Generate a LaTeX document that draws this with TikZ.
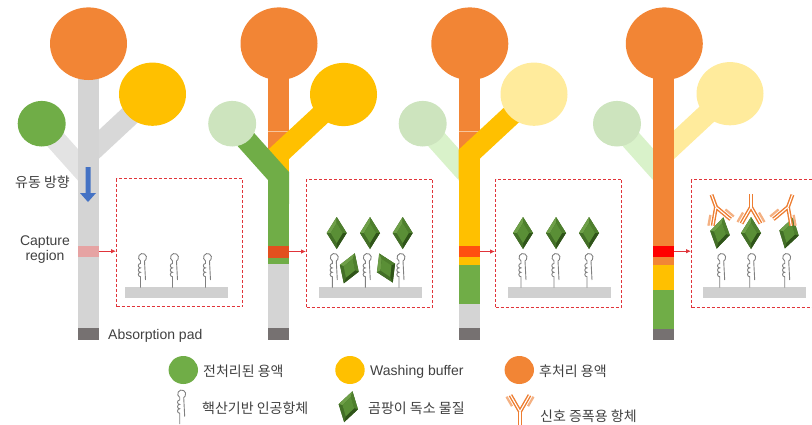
\documentclass[tikz,border=0pt]{standalone}
\usepackage{fontspec}
\setmainfont{Liberation Sans}
\newfontfamily\kr{Noto Sans CJK KR}
\usetikzlibrary{arrows.meta}

\definecolor{cOrange}{HTML}{F28535}
\definecolor{cYellow}{HTML}{FFC000}
\definecolor{cGreen}{HTML}{70AD47}
\definecolor{cGreenPale}{HTML}{CDE4BE}
\definecolor{cGreenPaleArm}{HTML}{D9F2CA}
\definecolor{cYellowPale}{HTML}{FFEB9C}
\definecolor{cStem}{HTML}{D4D4D4}
\definecolor{cArmA}{HTML}{E3E3E3}
\definecolor{cArmB}{HTML}{D8D8D8}
\definecolor{cPad}{HTML}{767171}
\definecolor{cCapA}{HTML}{E6A3A3}
\definecolor{cCapB}{HTML}{E2501E}
\definecolor{cCapC}{HTML}{FF5010}
\definecolor{cCapD}{HTML}{FF0000}
\definecolor{cBox}{HTML}{E0343A}
\definecolor{cText}{HTML}{404040}
\definecolor{cApt}{HTML}{808080}
\definecolor{cBar}{HTML}{D0D0D0}
\definecolor{cBlue}{HTML}{4472C4}
\definecolor{cSeam}{HTML}{F7C49C}
\definecolor{cAbHeavy}{HTML}{ED7D31}
\definecolor{cAbLight}{HTML}{F4B183}
\definecolor{txBase}{HTML}{3A6420}
\definecolor{txTL}{HTML}{6E9F48}
\definecolor{txTR}{HTML}{4E7F2D}
\definecolor{txBR}{HTML}{2F5419}
\definecolor{txBL}{HTML}{436F27}
\definecolor{txFace}{HTML}{5A8F36}

\tikzset{
  arm/.style={line width=21pt},
  capzone/.style={rectangle, draw=none, inner sep=0pt, minimum width=21pt, minimum height=11pt},
  box/.style={rectangle, draw=cBox, dash pattern=on 3pt off 2pt, line width=1.1pt,
              minimum width=126pt, minimum height=128pt, anchor=north west, inner sep=0pt},
  link/.style={draw=cBox, line width=0.8pt, -{Latex[length=5pt,width=4.5pt]}},
  lbl/.style={text=cText, inner sep=0pt, font=\fontsize{14}{15.6}\selectfont},
  krlbl/.style={text=cText, inner sep=0pt, font=\kr\fontsize{14}{16}\selectfont},
  heavy/.style={cAbHeavy, line width=1.4pt, double=white, double distance=1.1pt},
  pics/aptamer/.style={code={
    \draw[cApt, line width=0.9pt] (-2,3.46) arc[start angle=120, end angle=420, radius=4];
    \draw[cApt, line width=0.9pt] (-2,3.46) -- (-2,6)
        arc[start angle=270, end angle=90, radius=2.2]
        arc[start angle=270, end angle=90, radius=2.2]
        arc[start angle=270, end angle=90, radius=2.2] -- (-2,30);
    \draw[cApt, line width=0.9pt] (2,3.46) -- (3,22.5);
  }},
  pics/toxin/.style={code={
    \fill[txBase] (0,-16) -- (10,0) -- (0,16) -- (-10,0) -- cycle;
    \fill[txTL] (0,-16) -- (-10,0) -- (-6,0) -- (0,-10) -- cycle;
    \fill[txTR] (0,-16) -- (10,0) -- (6,0) -- (0,-10) -- cycle;
    \fill[txBR] (10,0) -- (0,16) -- (0,10) -- (6,0) -- cycle;
    \fill[txBL] (-10,0) -- (0,16) -- (0,10) -- (-6,0) -- cycle;
    \fill[txFace] (0,-10) -- (6,0) -- (0,10) -- (-6,0) -- cycle;
  }},
  pics/antibody/.style={code={
    \draw[cAbLight, line width=2.3pt] (-8,-5.5) -- (-13.5,-15);
    \draw[cAbLight, line width=2.3pt] (8,-5.5) -- (13.5,-15);
    \draw[heavy] (-9.5,-16.5) -- (0,0) -- (9.5,-16.5);
    \draw[heavy] (0,0) -- (0,13);
  }},
}

\begin{document}
\begin{tikzpicture}[x=1pt, y=-1pt]
\useasboundingbox (0,0) rectangle (812,424);
\clip (0,0) rectangle (812,424);

% ---------- strip 1: before loading ----------
\def\cx{88}
\draw[arm, cArmA] (\cx-46.5,124) -- (\cx,176);
\draw[arm, cArmB] (\cx+65,94) -- (\cx,154.5);
\fill[cStem] (\cx-10.5,75) rectangle (\cx+10.5,328);
\node[capzone, fill=cCapA] (cap1) at (\cx,251.2) {};
\fill[cPad] (\cx-10.5,328) rectangle (\cx+10.5,340);
\fill[cGreen] (\cx-46.3,123.7) ellipse [x radius=24, y radius=22.8];
\fill[cYellow] (\cx+64.5,94.2) ellipse [x radius=33.5, y radius=31.6];
\fill[cOrange] (\cx+0.5,43.7) ellipse [x radius=38.5, y radius=36.3];

% ---------- strip 2: pre-treated sample ----------
\def\cx{278.5}
\fill[cOrange] (\cx-10.5,75) rectangle (\cx+10.5,150);
\draw[cSeam, line width=0.6pt] (\cx-10.5,131) -- (\cx+10.5,131);
\fill[cYellow] (\cx-10.5,150) rectangle (\cx+10.5,175);
\begin{scope}
  \clip (\cx-10.5,0) rectangle (812,424);
  \draw[arm, cYellow] (\cx+65,94) -- (\cx-20,173);
\end{scope}
\fill[cGreen] (\cx-10.5,172) rectangle (\cx+10.5,264);
\begin{scope}
  \clip (0,0) rectangle (\cx+10.5,424);
  \draw[arm, cGreen] (\cx-46.5,124) -- (\cx+20,198.4);
\end{scope}
\node[capzone, fill=cCapB, minimum height=12pt] (cap2) at (\cx,251.5) {};
\fill[cStem] (\cx-10.5,264) rectangle (\cx+10.5,328);
\fill[cPad] (\cx-10.5,328) rectangle (\cx+10.5,340);
\fill[cGreenPale] (\cx-46.3,123.7) ellipse [x radius=24, y radius=22.8];
\fill[cYellow] (\cx+65,94.5) ellipse [x radius=33.5, y radius=31.6];
\fill[cOrange] (\cx+0.5,43.7) ellipse [x radius=38.5, y radius=36.3];

% ---------- strip 3: washing ----------
\def\cx{469}
\draw[arm, cGreenPaleArm] (\cx-46.5,124) -- (\cx,176);
\fill[cOrange] (\cx-10.5,75) rectangle (\cx+10.5,152);
\draw[cSeam, line width=0.6pt] (\cx-10.5,131) -- (\cx+10.5,131);
\fill[cYellow] (\cx-10.5,150) rectangle (\cx+10.5,265);
\begin{scope}
  \clip (\cx-10.5,0) rectangle (812,424);
  \draw[arm, cYellow] (\cx+65,94) -- (\cx-20,173);
\end{scope}
\node[capzone, fill=cCapC] (cap3) at (\cx,251.5) {};
\fill[cGreen] (\cx-10.5,265) rectangle (\cx+10.5,304);
\fill[cStem] (\cx-10.5,304) rectangle (\cx+10.5,328);
\fill[cPad] (\cx-10.5,328) rectangle (\cx+10.5,340);
\fill[cGreenPale] (\cx-46.3,123.7) ellipse [x radius=24, y radius=22.8];
\fill[cYellowPale] (\cx+65,94.2) ellipse [x radius=33.5, y radius=31.6];
\fill[cOrange] (\cx+0.8,43.7) ellipse [x radius=38.5, y radius=36.3];

% ---------- strip 4: post-treatment ----------
\def\cx{663.5}
\draw[arm, cGreenPaleArm] (\cx-46.5,124) -- (\cx,176);
\draw[arm, cYellowPale] (\cx+65,94) -- (\cx,154.5);
\fill[cOrange] (\cx-10.5,75) rectangle (\cx+10.5,265);
\node[capzone, fill=cCapD] (cap4) at (\cx,251.2) {};
\fill[cYellow] (\cx-10.5,265) rectangle (\cx+10.5,290);
\fill[cGreen] (\cx-10.5,290) rectangle (\cx+10.5,329);
\fill[cPad] (\cx-10.5,329) rectangle (\cx+10.5,340);
\fill[cGreenPale] (\cx-46.5,123.7) ellipse [x radius=24, y radius=22.8];
\fill[cYellowPale] (\cx+66.5,93.7) ellipse [x radius=33.5, y radius=31.6];
\fill[cOrange] (\cx+0.8,43.7) ellipse [x radius=38.5, y radius=36.3];

% flow direction arrow
\fill[cBlue] (85.5,167) -- (90.5,167) -- (90.5,193) -- (96,193) -- (88,202)
             -- (80,193) -- (85.5,193) -- cycle;

% labels of strip 1
\node[krlbl, anchor=east] (flow) at (70,182) {유동 방향};
\node[lbl, align=center] (capt) at (45,249.5) {Capture\\region};
\node[lbl, anchor=west] (padlbl) at (108,335.5) {Absorption pad};

% ---------- close-up boxes ----------
\node[box] (box1) at (116,178) {};
\node[box] (box2) at (306,178.5) {};
\node[box] (box3) at (495,178.5) {};
\node[box] (box4) at (691,179) {};

\draw[link] (cap1.east) -- (cap1.east -| box1.west);
\draw[link] (cap2.east) -- (cap2.east -| box2.west);
\draw[link] (cap3.east) -- (cap3.east -| box3.west);
\draw[link] (cap4.east) -- (cap4.east -| box4.west);

% substrates
\fill[cBar] (125,287) rectangle (228,298);
\fill[cBar] (319,287) rectangle (421.7,298);
\fill[cBar] (508,287) rectangle (611,298);
\fill[cBar] (703.3,287) rectangle (806,298);

% aptamers
\foreach \ax in {142.5,174.5,207.5, 334.3,367.3,401, 523,556,589, 721.7,751.7,786.7}
  \pic at (\ax,257.5) {aptamer};

% toxins
\pic at (336.7,233) {toxin};
\pic at (370,233) {toxin};
\pic at (402.7,233) {toxin};
\pic[rotate=-20] at (349.3,268.3) {toxin};
\pic[rotate=25] at (386,268) {toxin};
\pic at (523,233) {toxin};
\pic at (556,233) {toxin};
\pic at (589,233) {toxin};
\pic[rotate=-12] at (720,233) {toxin};
\pic at (751,233) {toxin};
\pic[rotate=-15] at (789,233) {toxin};

% signal antibodies
\pic[rotate=200] at (716,207) {antibody};
\pic[rotate=180] at (751,207) {antibody};
\pic[rotate=160] at (788,207) {antibody};

% ---------- legend ----------
\fill[cGreen] (183.3,370) ellipse [x radius=14.7, y radius=14];
\node[krlbl, anchor=west] (lg1) at (203,371) {전처리된 용액};
\fill[cYellow] (350,370) ellipse [x radius=14.7, y radius=14];
\node[lbl, anchor=west] (lg2) at (370,371.5) {Washing buffer};
\fill[cOrange] (519.3,370) ellipse [x radius=14.7, y radius=14];
\node[krlbl, anchor=west] (lg3) at (539,371) {후처리 용액};

\pic at (181.7,394) {aptamer};
\node[krlbl, anchor=west] (lg4) at (202,408.5) {핵산기반 인공항체};
\pic[rotate=-15] at (348.3,406.7) {toxin};
\node[krlbl, anchor=west] (lg5) at (368,408.5) {곰팡이 독소 물질};
\pic at (520,411.7) {antibody};
\node[krlbl, anchor=west] (lg6) at (540,416.5) {신호 증폭용 항체};
\end{tikzpicture}
\end{document}
